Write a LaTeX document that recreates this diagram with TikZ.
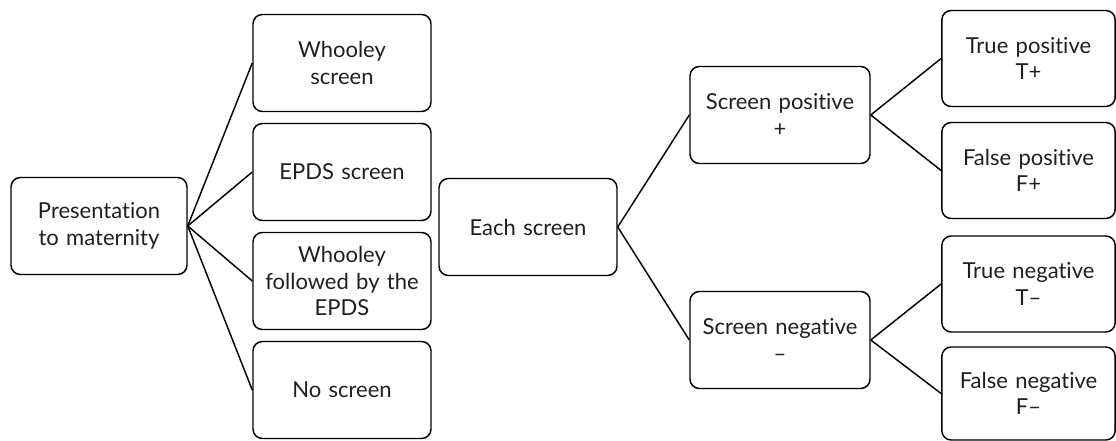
\documentclass[tikz,border=0pt]{standalone}
\usepackage{fontspec}
\setmainfont[Ligatures=NoCommon]{Lato}
\begin{document}
\begin{tikzpicture}[x=0.75pt,y=-0.75pt,
  box/.style={draw=black, line width=1.1pt, rounded corners=7pt, align=center,
    inner sep=2pt, font=\fontsize{16.5}{20}\selectfont, text=black!88},
  colbox/.style={box, minimum width=178*0.75pt, minimum height=97*0.75pt, text width=170*0.75pt},
  rbox/.style={box, minimum width=173*0.75pt, minimum height=96*0.75pt, text width=168*0.75pt},
  link/.style={line width=1.1pt}]
\useasboundingbox (0,0) rectangle (1116,441);
\node[colbox, minimum width=176*0.75pt] (pres) at (99,226) {Presentation\\to maternity};
\node[colbox] (whoo) at (342,63) {Whooley\\screen};
\node[colbox] (epds) at (342,172) {EPDS screen};
\node[colbox] (both) at (342,281) {Whooley\\followed by the\\EPDS};
\node[colbox] (none) at (342,390) {No screen};
\node[colbox] (each) at (528,227) {Each screen};
\node[colbox, minimum width=180*0.75pt] (spos) at (780,115) {Screen positive\\+};
\node[colbox, minimum width=180*0.75pt] (sneg) at (780,340) {Screen negative\\–};
\node[rbox] (tp) at (1028.5,58.5) {True positive\\T+};
\node[rbox] (fp) at (1028.5,170.5) {False positive\\F+};
\node[rbox] (tn) at (1028.5,284) {True negative\\T–};
\node[rbox, minimum height=93*0.75pt] (fn) at (1028.5,393.5) {False negative\\F–};
\foreach \t in {whoo,epds,both,none} \draw[link] (pres.east) -- (\t.west);
\draw[link] (each.east) -- (spos.west);
\draw[link] (each.east) -- (sneg.west);
\draw[link] (spos.east) -- (tp.west);
\draw[link] (spos.east) -- (fp.west);
\draw[link] (sneg.east) -- (tn.west);
\draw[link] (sneg.east) -- (fn.west);
\end{tikzpicture}
\end{document}
